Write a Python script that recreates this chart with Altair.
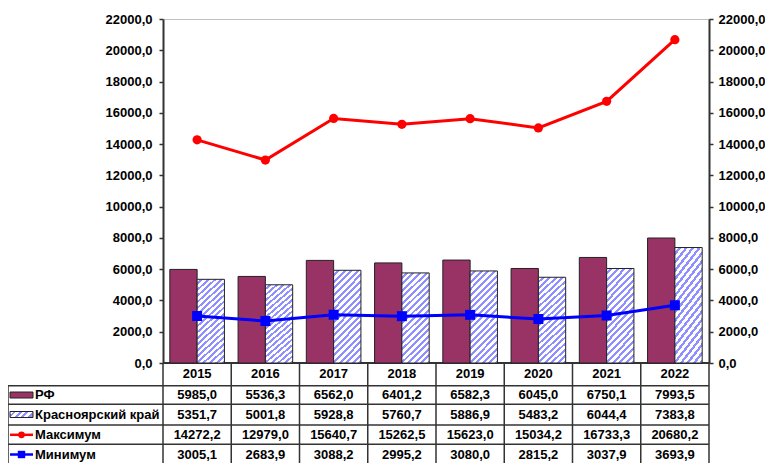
import altair as alt
import pandas as pd

years = ["2015", "2016", "2017", "2018", "2019", "2020", "2021", "2022"]
series_names = ["РФ", "Красноярский край", "Максимум", "Минимум"]
rf = [5985.0, 5536.3, 6562.0, 6401.2, 6582.3, 6045.0, 6750.1, 7993.5]
kras = [5351.7, 5001.8, 5928.8, 5760.7, 5886.9, 5483.2, 6044.4, 7383.8]
maxv = [14272.2, 12979.0, 15640.7, 15262.5, 15623.0, 15034.2, 16733.3, 20680.2]
minv = [3005.1, 2683.9, 3088.2, 2995.2, 3080.0, 2815.2, 3037.9, 3693.9]
y_ticks = list(range(0, 22001, 2000))

rows = []
for name, vals in zip(series_names, [rf, kras, maxv, minv]):
    for yr, v in zip(years, vals):
        rows.append({"year": yr, "series": name, "value": v})
df = pd.DataFrame(rows)
names_df = pd.DataFrame({"series": series_names})
one = pd.DataFrame({"k": [0]})

FONT = "Liberation Sans"
RF_COLOR = "#993366"
HATCH = "#8f8fff"
EDGE = "#222222"
GRID = "#333333"
W, H = 546, 344


def hatch(a, b, n, frac=0.45):
    stops = []
    for i in range(n):
        s = i / n
        m = s + (1 - frac) / n
        e = (i + 1) / n
        stops += [alt.GradientStop(offset=s, color="white"),
                  alt.GradientStop(offset=m, color="white"),
                  alt.GradientStop(offset=m, color=HATCH),
                  alt.GradientStop(offset=e, color=HATCH)]
    return alt.LinearGradient(gradient="linear", x1=0, y1=0, x2=a, y2=b, stops=stops)


bar_hatch = hatch(0.358, 1.193, 18)
sym_hatch = hatch(1.05, 0.28, 4)

lbl = "replace(format(datum.value, '.1f'), '.', ',')"
xscale = alt.Scale(domain=years, paddingInner=0, paddingOuter=0)
yscale = alt.Scale(domain=[0, 22000], nice=False, zero=True)
X = alt.X("year:N", scale=xscale, axis=None)
axis_common = dict(values=y_ticks, labelExpr=lbl, title=None, grid=False,
                   domainColor=GRID, domainWidth=2, tickColor=GRID, tickWidth=1.5,
                   tickSize=4, labelFont=FONT, labelFontSize=13,
                   labelFontWeight="bold", labelColor="#000000")
left_axis = alt.Axis(orient="left", labelPadding=7, **axis_common)
right_axis = alt.Axis(orient="right", labelPadding=5, **axis_common)
off = alt.XOffset("series:N", scale=alt.Scale(domain=series_names[:2], paddingInner=0, paddingOuter=0.25))

base = alt.Chart(df)

bar_rf = base.transform_filter(alt.datum.series == series_names[0]).mark_bar(
    fill=RF_COLOR, stroke=EDGE, strokeWidth=1).encode(
    x=X, xOffset=off, y=alt.Y("value:Q", scale=yscale, axis=left_axis))
bar_kr = base.transform_filter(alt.datum.series == series_names[1]).mark_bar(
    fill=bar_hatch, stroke=EDGE, strokeWidth=1).encode(
    x=X, xOffset=off, y=alt.Y("value:Q", scale=yscale, axis=None))

line_max = base.transform_filter(alt.datum.series == series_names[2]).mark_line(
    color="#ff0000", strokeWidth=3,
    point=alt.OverlayMarkDef(shape="circle", size=85, filled=True, color="#ff0000", opacity=1)).encode(
    x=X, y=alt.Y("value:Q", scale=yscale, axis=right_axis))
line_min = base.transform_filter(alt.datum.series == series_names[3]).mark_line(
    color="#0000ff", strokeWidth=3,
    point=alt.OverlayMarkDef(shape="square", size=100, filled=True, color="#0000ff", opacity=1)).encode(
    x=X, y=alt.Y("value:Q", scale=yscale, axis=None))

# table grid
table_top, table_bottom = 344, 460
row_lines = [366.7, 385.3, 406, 425.3]
row_centers = [376, 395.5, 415.8, 435.5]
grid_layers = [
    alt.Chart(one).mark_rule(color=GRID, strokeWidth=2).encode(
        x=alt.value(0), x2=alt.value(W), y=alt.value(table_top))
]
for yl in row_lines:
    grid_layers.append(alt.Chart(one).mark_rule(color=GRID, strokeWidth=1.5).encode(
        x=alt.value(-155), x2=alt.value(W), y=alt.value(yl)))
grid_layers.append(alt.Chart(one).mark_rule(color=GRID, strokeWidth=1.5).encode(
    x=alt.value(-155), y=alt.value(row_lines[0]), y2=alt.value(table_bottom)))
grid_layers.append(alt.Chart(one).mark_rule(color=GRID, strokeWidth=1.5).encode(
    x=alt.value(W), y=alt.value(table_top), y2=alt.value(table_bottom)))
grid_layers.append(base.transform_filter(alt.datum.series == series_names[0]).mark_rule(
    color=GRID, strokeWidth=1.5).encode(
    x=alt.X("year:N", scale=xscale, axis=None, bandPosition=0),
    y=alt.value(table_top), y2=alt.value(table_bottom)))

txt = dict(font=FONT, fontSize=13, fontWeight="bold", color="#000000", baseline="middle")
year_text = base.transform_filter(alt.datum.series == series_names[0]).mark_text(
    align="center", **txt).encode(x=X, y=alt.value(355), text="year:N")

value_texts = []
name_texts = []
for name, yc in zip(series_names, row_centers):
    value_texts.append(base.transform_filter(alt.datum.series == name).transform_calculate(
        label=lbl).mark_text(align="center", **txt).encode(
        x=X, y=alt.value(yc), text="label:N"))
    name_texts.append(alt.Chart(names_df).transform_filter(alt.datum.series == name).mark_text(
        align="left", **txt).encode(x=alt.value(-128), y=alt.value(yc), text="series:N"))

sx1, sx2, sxc = -153, -130, -141.5
symbols = [
    alt.Chart(one).mark_rect(fill=RF_COLOR, stroke=EDGE, strokeWidth=1).encode(
        x=alt.value(sx1), x2=alt.value(sx2), y=alt.value(row_centers[0] - 3), y2=alt.value(row_centers[0] + 3)),
    alt.Chart(one).mark_rect(fill=sym_hatch, stroke=EDGE, strokeWidth=1).encode(
        x=alt.value(sx1), x2=alt.value(sx2), y=alt.value(row_centers[1] - 3), y2=alt.value(row_centers[1] + 3)),
    alt.Chart(one).mark_rule(color="#ff0000", strokeWidth=2.5).encode(
        x=alt.value(sx1), x2=alt.value(sx2), y=alt.value(row_centers[2])),
    alt.Chart(one).mark_point(shape="circle", size=45, filled=True, color="#ff0000", opacity=1).encode(
        x=alt.value(sxc), y=alt.value(row_centers[2])),
    alt.Chart(one).mark_rule(color="#0000ff", strokeWidth=2.5).encode(
        x=alt.value(sx1), x2=alt.value(sx2), y=alt.value(row_centers[3])),
    alt.Chart(one).mark_point(shape="square", size=55, filled=True, color="#0000ff", opacity=1).encode(
        x=alt.value(sxc), y=alt.value(row_centers[3])),
]

chart = alt.layer(
    *grid_layers, bar_rf, bar_kr, line_max, line_min, year_text,
    *value_texts, *name_texts, *symbols
).resolve_axis(y="independent").properties(
    width=W, height=H,
    autosize=alt.AutoSizeParams(type="none"),
    padding={"left": 155, "top": 11, "right": 56, "bottom": 100},
).configure_view(stroke="#c0c0c0", strokeWidth=1)

chart.save("out.html", embed_options={"renderer": "svg", "actions": False})
